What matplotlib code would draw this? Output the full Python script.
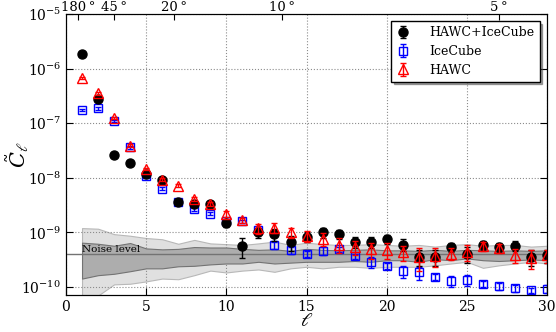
import numpy as np
import matplotlib
matplotlib.use("Agg")
import matplotlib.pyplot as plt

plt.rcParams['font.family'] = 'DejaVu Serif'
plt.rcParams['mathtext.fontset'] = 'dejavuserif'

ell = list(range(1, 31))

# HAWC+IceCube combined
comb = [1.87e-6, 2.73e-7, 2.58e-8, 1.9e-8, 1.15e-8, 9.1e-9, 3.65e-9, 3.3e-9, 3.3e-9, 1.47e-9,
        5.75e-10, 1.0e-9, 9.3e-10, 6.6e-10, 8.4e-10, 1.0e-9, 9.3e-10, 6.8e-10, 6.7e-10, 7.6e-10,
        6.0e-10, 3.6e-10, 3.6e-10, 5.3e-10, 4.0e-10, 5.9e-10, 5.3e-10, 5.7e-10, 3.6e-10, 3.8e-10]
comb_err = [5e-8, 1e-8, 1.5e-9, 1e-9, 6e-10, 4e-10, 3e-10, 3e-10, 3e-10, 2.2e-10,
            2.3e-10, 2e-10, 2.3e-10, 2e-10, 1.8e-10, 2e-10, 1.8e-10, 1.6e-10, 1.6e-10, 1.5e-10,
            1.5e-10, 1.2e-10, 1.2e-10, 1e-10, 1.3e-10, 1.1e-10, 1e-10, 1.2e-10, 1.2e-10, 1e-10]

# IceCube
ice = [1.75e-7, 1.87e-7, 1.1e-7, 3.6e-8, 1.07e-8, 6.3e-9, 3.6e-9, 2.65e-9, 2.2e-9, 1.65e-9,
       1.6e-9, 1.1e-9, 5.8e-10, 4.7e-10, 4.1e-10, 4.6e-10, 4.9e-10, 3.7e-10, 2.9e-10, 2.4e-10,
       1.95e-10, 1.85e-10, 1.55e-10, 1.3e-10, 1.35e-10, 1.15e-10, 1.03e-10, 9.5e-11, 8.8e-11, 9.2e-11]
ice_err = [1e-8, 1e-8, 5e-9, 2e-9, 6e-10, 4e-10, 2e-10, 2e-10, 1.5e-10, 1.2e-10,
           1e-10, 1e-10, 9e-11, 6e-11, 5e-11, 8e-11, 6e-11, 4e-11, 7e-11, 3e-11,
           5e-11, 5e-11, 2e-11, 3e-11, 3e-11, 1.5e-11, 1.5e-11, 1.5e-11, 1e-11, 1.5e-11]

# HAWC
hawc = [6.7e-7, 3.5e-7, 1.25e-7, 3.9e-8, 1.45e-8, 9.3e-9, 7.2e-9, 4.1e-9, 3.3e-9, 2.2e-9,
        1.67e-9, 1.2e-9, 1.22e-9, 1.0e-9, 8.7e-10, 7.6e-10, 6.0e-10, 5.5e-10, 4.9e-10, 4.8e-10,
        4.3e-10, 3.6e-10, 3.7e-10, 4.1e-10, 4.45e-10, 5.7e-10, 5.2e-10, 3.9e-10, 3.4e-10, 3.8e-10]
hawc_err = [3e-8, 2e-8, 5e-9, 2e-9, 8e-10, 5e-10, 4e-10, 3e-10, 3e-10, 2.5e-10,
            2e-10, 2.5e-10, 2.5e-10, 2e-10, 2e-10, 2e-10, 1.8e-10, 1.6e-10, 1.6e-10, 1.5e-10,
            1.3e-10, 1.6e-10, 1.4e-10, 1.0e-10, 1.5e-10, 1.1e-10, 1.0e-10, 1.1e-10, 1.3e-10, 1.0e-10]

# isotropic noise bands
noise_level = 4.0e-10
light_hi = [1.2e-9, 1.17e-9, 9.3e-10, 8.7e-10, 7.9e-10, 7.5e-10, 6.2e-10, 7.3e-10, 6.3e-10, 6.1e-10,
            5.9e-10, 6.3e-10, 6.8e-10, 5.9e-10, 6.5e-10, 6.1e-10, 5.9e-10, 5.9e-10, 6.1e-10, 5.9e-10,
            5.7e-10, 5.9e-10, 5.5e-10, 5.9e-10, 6.1e-10, 5.7e-10, 5.9e-10, 5.9e-10, 5.5e-10, 5.7e-10]
dark_hi = [6.5e-10, 6.2e-10, 5.7e-10, 6.4e-10, 5.1e-10, 4.9e-10, 5.0e-10, 5.4e-10, 5.3e-10, 5.3e-10,
           5.0e-10, 4.8e-10, 4.9e-10, 4.6e-10, 5.0e-10, 4.8e-10, 4.7e-10, 4.8e-10, 4.9e-10, 4.7e-10,
           4.7e-10, 4.6e-10, 4.8e-10, 4.6e-10, 4.8e-10, 4.7e-10, 4.6e-10, 4.7e-10, 4.6e-10, 4.7e-10]
dark_lo = [1.43e-10, 1.65e-10, 1.75e-10, 1.95e-10, 2.2e-10, 2.2e-10, 2.4e-10, 2.45e-10, 2.6e-10, 2.7e-10,
           2.7e-10, 2.9e-10, 2.7e-10, 2.8e-10, 2.9e-10, 2.9e-10, 2.9e-10, 3.0e-10, 2.9e-10, 3.1e-10,
           3.1e-10, 2.9e-10, 3.25e-10, 3.1e-10, 3.35e-10, 3.1e-10, 3.0e-10, 3.1e-10, 3.2e-10, 3.1e-10]
light_lo = [4.6e-11, 7.0e-11, 1.12e-10, 1.15e-10, 1.27e-10, 1.43e-10, 1.39e-10, 1.65e-10, 2.0e-10, 1.85e-10,
            2.0e-10, 2.1e-10, 1.9e-10, 2.2e-10, 2.35e-10, 2.2e-10, 2.35e-10, 2.35e-10, 2.25e-10, 2.35e-10,
            2.35e-10, 2.35e-10, 2.5e-10, 2.7e-10, 2.9e-10, 2.25e-10, 2.5e-10, 2.7e-10, 2.9e-10, 2.7e-10]

top_deg = [180, 45, 20, 10, 5]

fig = plt.figure(figsize=(5.56, 3.32), dpi=100)
ax = fig.add_axes([0.1187, 0.1114, 0.8653, 0.8466])

# noise bands
ax.fill_between(ell, light_lo, light_hi, facecolor='0.88', edgecolor='0.72', lw=0.8, zorder=1)
ax.fill_between(ell, dark_lo, dark_hi, facecolor='0.68', edgecolor='0.45', lw=0.8, zorder=2)
ax.axhline(noise_level, color='0.45', lw=1.0, zorder=3)
ax.text(1.0, noise_level * 1.02, 'Noise level', fontsize=7.5, va='bottom', ha='left', zorder=4)

ax.errorbar(ell, comb, yerr=comb_err, fmt='o', color='k', ms=6.5, capsize=2, lw=1,
            label='HAWC+IceCube', zorder=6)
ax.errorbar(ell, ice, yerr=ice_err, fmt='s', color='b', mfc='none', mec='b', ms=6, mew=1,
            capsize=2, lw=1, label='IceCube', zorder=5)
ax.errorbar(ell, hawc, yerr=hawc_err, fmt='^', color='r', mfc='none', mec='r', ms=6.5, mew=1,
            capsize=2, lw=1, label='HAWC', zorder=7)

ax.set_yscale('log')
ax.set_xlim(0, 30)
ax.set_ylim(7.15e-11, 1e-5)
ax.set_xticks([0, 5, 10, 15, 20, 25, 30])
ax.grid(True, which='major', color='0.55', linestyle=':', lw=0.8)
ax.tick_params(which='both', direction='in', right=True, top=False, labelsize=10)
ax.tick_params(which='major', length=5)
ax.tick_params(which='minor', length=2.5)
ax.set_xlabel(r'$\ell$', fontsize=14)
ax.set_ylabel(r'$\tilde{C}_\ell$', fontsize=15)
ax.xaxis.set_label_coords(0.5, -0.062)
ax.yaxis.set_label_coords(-0.072, 0.5)

# angular scale on top (l ~ 135 deg / theta)
ax2 = ax.twiny()
ax2.set_xlim(0, 30)
ax2.set_xticks([135.0 / d for d in top_deg])
ax2.set_xticklabels(['%d\u2009\u00b0' % d for d in top_deg])
ax2.tick_params(direction='in', length=4, labelsize=9.5, pad=0)
ax2.minorticks_off()

leg = ax.legend(loc='upper right', numpoints=1, fontsize=9, fancybox=False, shadow=True,
                framealpha=1, edgecolor='k', borderaxespad=0.6, handlelength=1.2,
                handletextpad=1.5, labelspacing=0.45)
leg.get_frame().set_linewidth(1)

fig.savefig('out.png', dpi=100)
